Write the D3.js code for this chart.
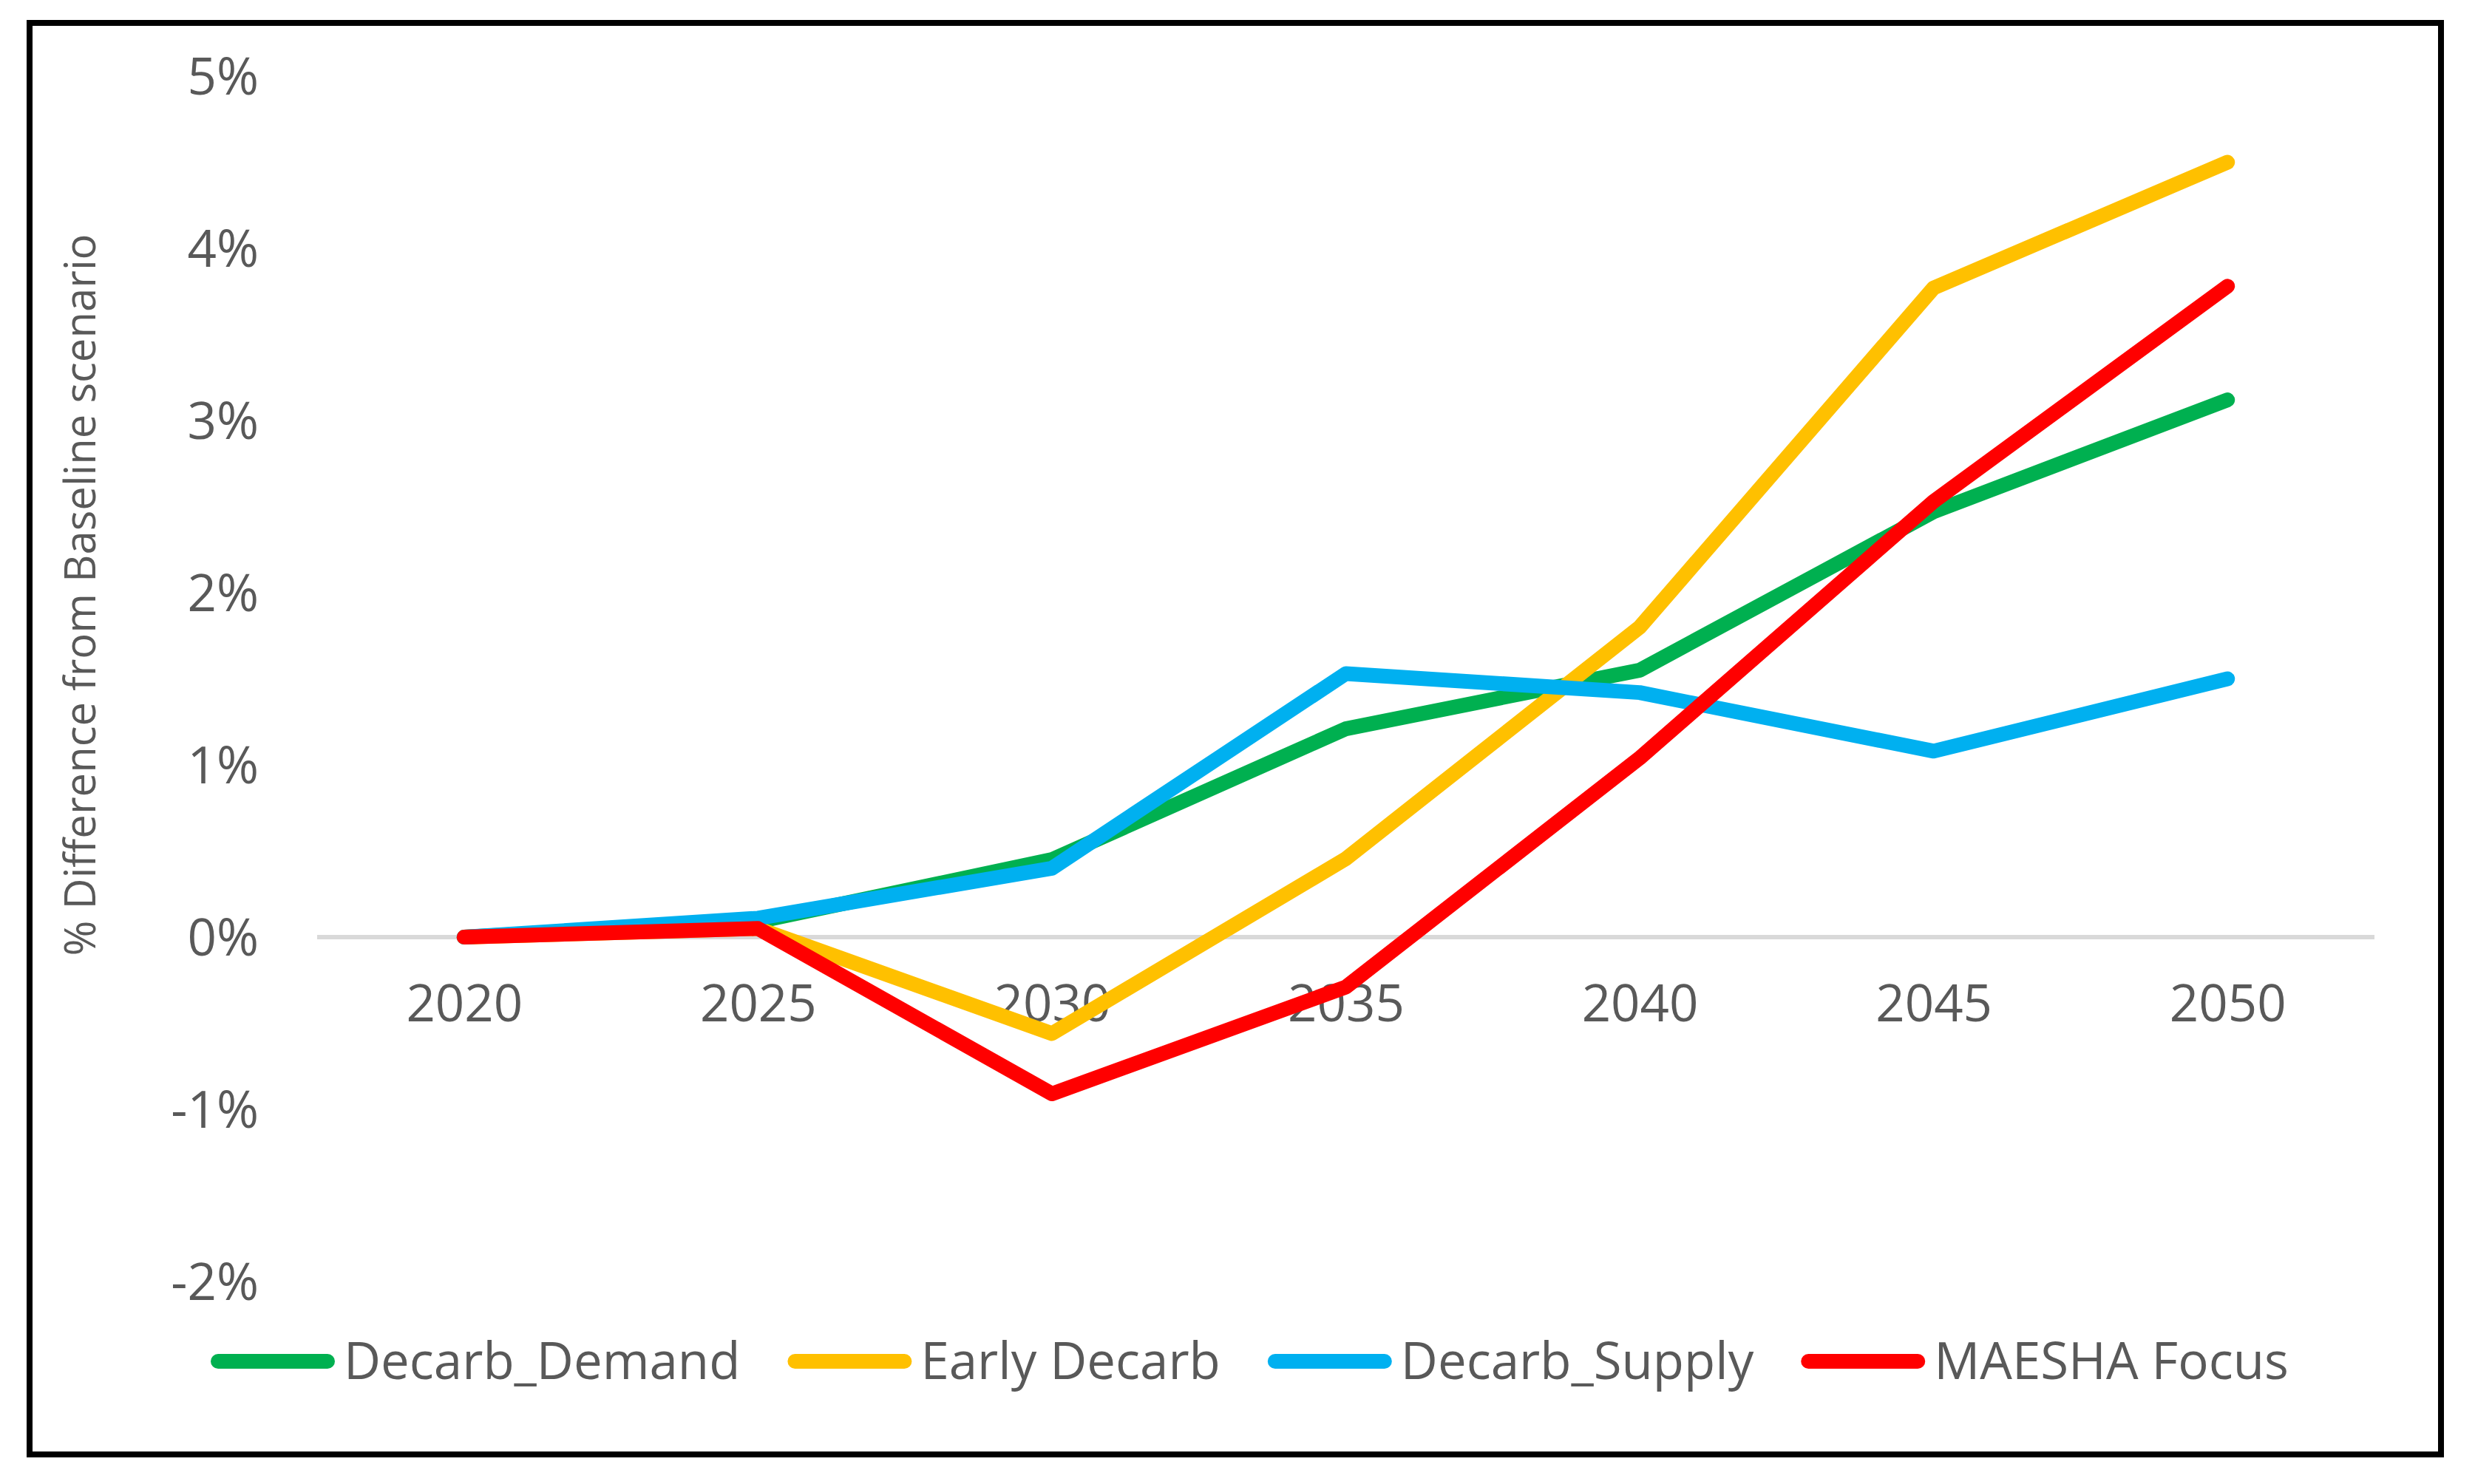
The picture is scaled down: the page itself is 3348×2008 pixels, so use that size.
<!DOCTYPE html>
<html>
<head>
<meta charset="utf-8">
<script src="https://cdn.jsdelivr.net/npm/d3@7"></script>
<style>
  html, body { margin: 0; padding: 0; background: #ffffff; }
  svg { display: block; }
</style>
</head>
<body>
<svg id="chart" width="3348" height="2008"></svg>
<script>
// ---- Data ----
const years = ["2020", "2025", "2030", "2035", "2040", "2045", "2050"];
const seriesNames = ["Decarb_Demand", "Early Decarb", "Decarb_Supply", "MAESHA Focus"];
const decarbDemand = [0, 0.09, 0.45, 1.21, 1.55, 2.47, 3.12];
const earlyDecarb  = [0, 0.05, -0.56, 0.455, 1.80, 3.77, 4.50];
const decarbSupply = [0, 0.11, 0.40, 1.53, 1.42, 1.08, 1.50];
const maeshaFocus  = [0, 0.05, -0.91, -0.29, 1.04, 2.53, 3.78];
const yTicks = [-2, -1, 0, 1, 2, 3, 4, 5];
const yTitle = "% Difference from Baseline scenario";

const seriesValues = [decarbDemand, earlyDecarb, decarbSupply, maeshaFocus];
const colors = ["#00B050", "#FFC000", "#00B0F0", "#FF0000"];

// ---- Layout ----
const plotLeft = 429, plotRight = 3212;
const yTop = 103, yBottom = 1734;
const fontFam = "'Open Sans', 'Noto Sans', sans-serif";
const textColor = "#595959";
const labelSize = 69;

const svg = d3.select("#chart");

// Outer frame
svg.append("rect")
  .attr("x", 40).attr("y", 31)
  .attr("width", 3262).attr("height", 1937)
  .attr("fill", "#ffffff")
  .attr("stroke", "#000000")
  .attr("stroke-width", 8);

const x = d3.scalePoint().domain(years).range([plotLeft, plotRight]).padding(0.5);
const y = d3.scaleLinear().domain([-2, 5]).range([yBottom, yTop]);

// Zero gridline
svg.append("line")
  .attr("x1", plotLeft).attr("x2", plotRight)
  .attr("y1", y(0)).attr("y2", y(0))
  .attr("stroke", "#d9d9d9")
  .attr("stroke-width", 6);

// Y axis labels
const yAxis = d3.axisLeft(y).tickValues(yTicks).tickSize(0).tickPadding(0)
  .tickFormat(d => d + "%");
const gy = svg.append("g").attr("transform", "translate(350,0)").call(yAxis);
gy.select(".domain").remove();
gy.selectAll("text")
  .attr("font-family", fontFam)
  .attr("font-size", labelSize)
  .attr("fill", textColor)
  .attr("dy", "0.35em");

// X axis labels
const xAxis = d3.axisBottom(x).tickSize(0).tickPadding(0);
const gx = svg.append("g").attr("transform", "translate(0,1358)").call(xAxis);
gx.select(".domain").remove();
gx.selectAll("text")
  .attr("font-family", fontFam)
  .attr("font-size", labelSize)
  .attr("fill", textColor)
  .attr("dy", "0.35em");

// Y title
svg.append("text")
  .attr("transform", "translate(106,805) rotate(-90)")
  .attr("text-anchor", "middle")
  .attr("dominant-baseline", "central")
  .attr("font-family", fontFam)
  .attr("font-size", 58)
  .attr("fill", textColor)
  .text(yTitle);

// Lines
const line = d3.line()
  .x((d, i) => x(years[i]))
  .y(d => y(d));

seriesValues.forEach((vals, i) => {
  svg.append("path")
    .datum(vals)
    .attr("d", line)
    .attr("fill", "none")
    .attr("stroke", colors[i])
    .attr("stroke-width", 20)
    .attr("stroke-linejoin", "round")
    .attr("stroke-linecap", "round");
});

// Legend
const legendY = 1842;
const lineLen = 148;
const capR = 10;
const textGap = 12;
const itemGap = 64;
const legend = svg.append("g");
const items = [];
seriesNames.forEach((name, i) => {
  const g = legend.append("g");
  g.append("line")
    .attr("x1", capR).attr("x2", capR + lineLen)
    .attr("y1", 0).attr("y2", 0)
    .attr("stroke", colors[i])
    .attr("stroke-width", 20)
    .attr("stroke-linecap", "round");
  const t = g.append("text")
    .attr("x", capR * 2 + lineLen + textGap)
    .attr("y", 0)
    .attr("dy", "0.35em")
    .attr("font-family", fontFam)
    .attr("font-size", labelSize)
    .attr("fill", textColor)
    .text(name);
  const w = capR * 2 + lineLen + textGap + t.node().getComputedTextLength();
  items.push({ g, w });
});
let startX = 285;
items.forEach(it => {
  it.g.attr("transform", `translate(${startX},${legendY})`);
  startX += it.w + itemGap;
});
</script>
</body>
</html>
